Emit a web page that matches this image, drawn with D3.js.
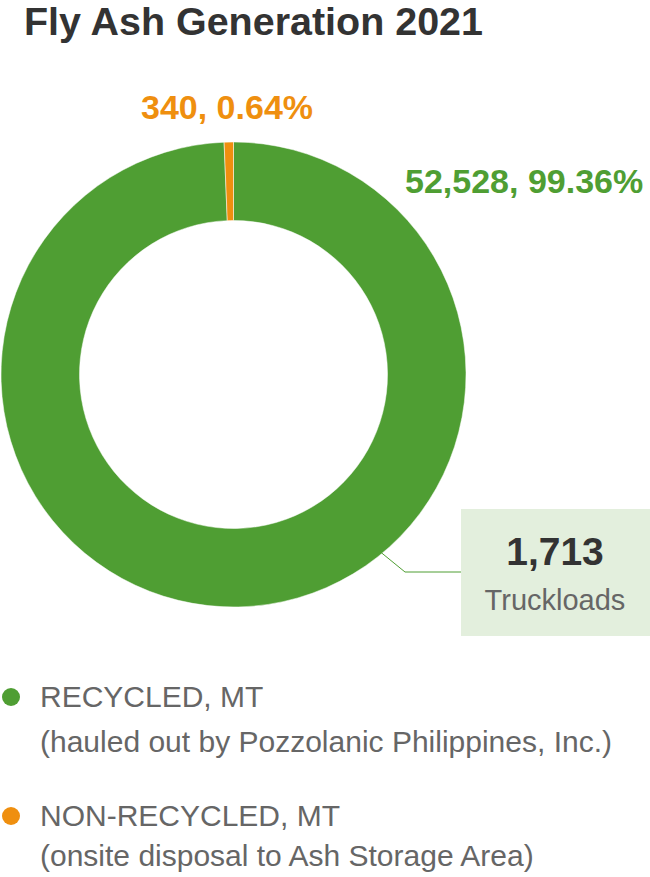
<!DOCTYPE html>
<html>
<head>
<meta charset="utf-8">
<script src="https://cdn.jsdelivr.net/npm/d3@7"></script>
<style>
  html, body { margin: 0; padding: 0; background: #fff; }
  svg { display: block; font-family: "Liberation Sans", Arial, Helvetica, sans-serif; }
</style>
</head>
<body>
<svg id="chart" width="650" height="877"></svg>
<script>
const title = "Fly Ash Generation 2021";
const categories = ["RECYCLED, MT", "NON-RECYCLED, MT"];
const subLabels = ["(hauled out by Pozzolanic Philippines, Inc.)", "(onsite disposal to Ash Storage Area)"];
const values = [52528, 340];
const percentLabels = ["99.36%", "0.64%"];
const colors = ["#4f9e33", "#ef8f0f"];
const truckloads = 1713;
const truckUnit = "Truckloads";

const svg = d3.select("#chart");

svg.append("text")
  .attr("x", 24).attr("y", 35)
  .attr("font-size", 38).attr("font-weight", "bold")
  .attr("fill", "#333333")
  .attr("textLength", 459).attr("lengthAdjust", "spacingAndGlyphs")
  .text(title);

const cx = 233.5, cy = 374.5, R = 232.5, r = 154;
const pie = d3.pie().sort(null).value(d => d);
const arcs = pie(values);
const arc = d3.arc().innerRadius(r).outerRadius(R);

const g = svg.append("g").attr("transform", `translate(${cx},${cy})`);
g.selectAll("path").data(arcs).join("path")
  .attr("d", arc)
  .attr("fill", (d, i) => colors[i])
  .attr("stroke", "#ffffff").attr("stroke-width", 0.5);

const fmt = d3.format(",");
svg.append("text")
  .attr("x", 405).attr("y", 193)
  .attr("font-size", 34).attr("font-weight", "bold")
  .attr("fill", colors[0])
  .text(`${fmt(values[0])}, ${percentLabels[0]}`);
svg.append("text")
  .attr("x", 141).attr("y", 119)
  .attr("font-size", 34).attr("font-weight", "bold")
  .attr("fill", colors[1])
  .text(`${fmt(values[1])}, ${percentLabels[1]}`);

// leader line from ring to truckload box
const ang = 2.45;
const p0 = [cx + (R - 2) * Math.sin(ang), cy - (R - 2) * Math.cos(ang)];
svg.append("polyline")
  .attr("points", `${p0[0]},${p0[1]} 405,572 461,572`)
  .attr("fill", "none").attr("stroke", colors[0]).attr("stroke-width", 1);

// truckload box
svg.append("rect")
  .attr("x", 461).attr("y", 509).attr("width", 189).attr("height", 127)
  .attr("fill", "#e3efdd");
svg.append("text")
  .attr("x", 555).attr("y", 565).attr("text-anchor", "middle")
  .attr("font-size", 39).attr("font-weight", "bold").attr("fill", "#333333")
  .text(fmt(truckloads));
svg.append("text")
  .attr("x", 555).attr("y", 610).attr("text-anchor", "middle")
  .attr("font-size", 29).attr("fill", "#666666")
  .text(truckUnit);

// legend
const legendY = [707, 826];
const subY = [752, 866];
categories.forEach((c, i) => {
  svg.append("circle").attr("cx", 11).attr("cy", legendY[i] - 10).attr("r", 9).attr("fill", colors[i]);
  svg.append("text").attr("x", 40).attr("y", legendY[i])
    .attr("font-size", 30).attr("fill", "#666666").text(c);
  svg.append("text").attr("x", 40).attr("y", subY[i])
    .attr("font-size", 30).attr("fill", "#666666").text(subLabels[i]);
});
</script>
</body>
</html>
